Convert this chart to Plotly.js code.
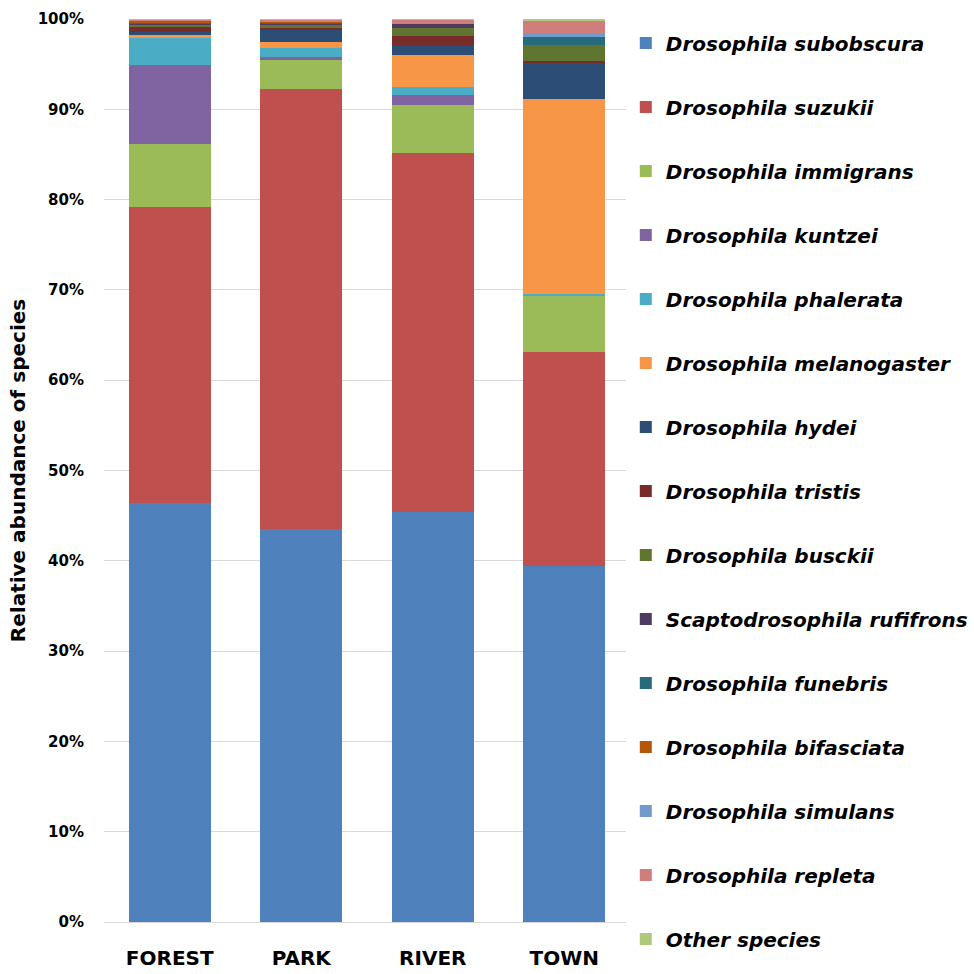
<!DOCTYPE html>
<html>
<head>
<meta charset="utf-8">
<script src="https://cdn.plot.ly/plotly-3.0.1.min.js"></script>
<style>
  body { margin: 0; background: #fff; }
  #myDiv { width: 974px; height: 974px; }
</style>
</head>
<body>
<div id="myDiv"></div>
<script>
// Sitios de muestreo
var sites = ['FOREST', 'PARK', 'RIVER', 'TOWN'];

// Especies (orden de apilado, de abajo hacia arriba)
var species = [
    'Drosophila subobscura', 'Drosophila suzukii', 'Drosophila immigrans',
    'Drosophila kuntzei', 'Drosophila phalerata', 'Drosophila melanogaster',
    'Drosophila hydei', 'Drosophila tristis', 'Drosophila busckii',
    'Scaptodrosophila rufifrons', 'Drosophila funebris', 'Drosophila bifasciata',
    'Drosophila simulans', 'Drosophila repleta', 'Other species'
];

// Abundancia relativa (%) por sitio: FOREST, PARK, RIVER, TOWN
var subobscura   = [46.4, 43.6, 45.4, 39.4];
var suzukii      = [32.8, 48.8, 39.7, 23.7];
var immigrans    = [7.0, 3.2, 5.4, 6.2];
var kuntzei      = [8.7, 0.33, 1.1, 0.1];
var phalerata    = [3.0, 1.03, 0.8, 0.15];
var melanogaster = [0.35, 0.66, 3.55, 21.65];
var hydei        = [0.35, 1.26, 1.0, 3.95];
var tristis      = [0.6, 0.3, 1.1, 0.22];
var busckii      = [0.2, 0.25, 0.96, 1.77];
var rufifrons    = [0.15, 0.1, 0.37, 0.0];
var funebris     = [0.1, 0.15, 0.1, 0.96];
var bifasciata   = [0.15, 0.1, 0.0, 0.0];
var simulans     = [0.05, 0.15, 0.1, 0.3];
var repleta      = [0.1, 0.1, 0.3, 1.44];
var other        = [0.1, 0.1, 0.1, 0.2];

var values = [subobscura, suzukii, immigrans, kuntzei, phalerata, melanogaster,
    hydei, tristis, busckii, rufifrons, funebris, bifasciata, simulans, repleta, other];

var colors = ['#4F81BD', '#C0504D', '#9BBB59', '#8064A2', '#4BACC6', '#F79646',
    '#2C4D75', '#772C2A', '#5F7530', '#4D3B62', '#276A7C', '#B65708',
    '#729ACA', '#D07E7C', '#AFC97A'];

var fontFam = '"DejaVu Sans", sans-serif';

var data = [];
for (var k = 0; k < species.length; k++) {
    data.push({
        x: sites,
        y: values[k],
        name: '<i>' + species[k] + '</i>',
        legendgroup: 'g' + k,
        type: 'bar',
        marker: { color: colors[k], line: { width: 0 } },
        hoverinfo: 'none'
    });
}

var layout = {
    width: 974,
    height: 974,
    barmode: 'stack',
    barnorm: 'percent',
    bargap: 0.376,
    paper_bgcolor: '#fff',
    plot_bgcolor: '#fff',
    font: { family: fontFam, color: '#000' },
    margin: { l: 104, r: 344, t: 19, b: 52, autoexpand: false },
    xaxis: {
        tickfont: { family: fontFam, size: 20, weight: 'bold' },
        showline: false,
        ticks: '',
        ticklen: 0,
        ticklabelstandoff: 22
    },
    yaxis: {
        range: [0, 100],
        dtick: 10,
        ticksuffix: '%',
        tickfont: { family: fontFam, size: 15, weight: 'bold' },
        gridcolor: '#d9d9d9',
        gridwidth: 1,
        zeroline: true,
        zerolinecolor: '#d9d9d9',
        ticks: '',
        ticklabelstandoff: 19,
        title: {
            text: '<b>Relative abundance of species</b>',
            font: { family: fontFam, size: 20 },
            standoff: 6
        }
    },
    showlegend: true,
    legend: {
        x: 0.992,
        xanchor: 'left',
        y: 0.995,
        yanchor: 'top',
        traceorder: 'grouped',
        tracegroupgap: 35,
        maxheight: 970,
        font: { family: fontFam, size: 20, weight: 'bold' },
        itemwidth: 30
    }
};

var config = { staticPlot: true };

Plotly.newPlot('myDiv', data, layout, config);
</script>
</body>
</html>
